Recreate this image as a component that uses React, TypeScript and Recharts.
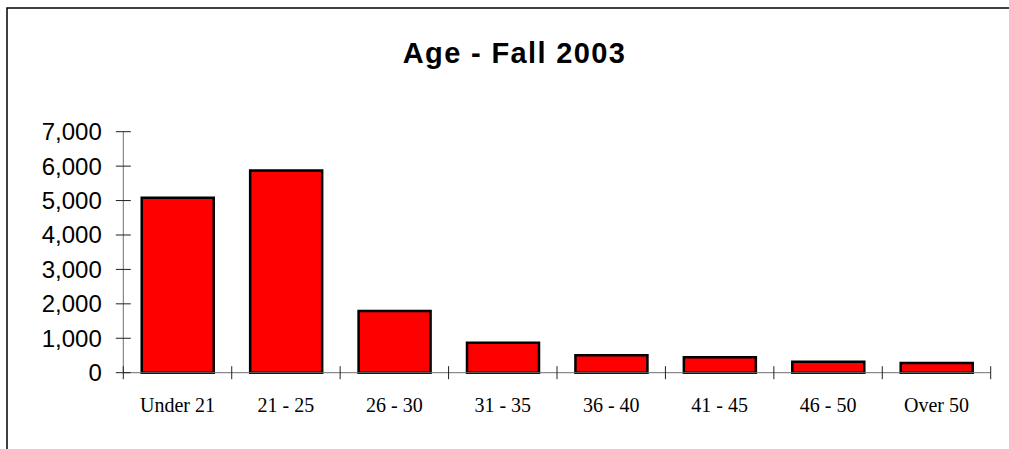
import React from 'react';
import { BarChart, Bar, XAxis, YAxis } from 'recharts';

const title = 'Age - Fall 2003';
const categories = ['Under 21', '21 - 25', '26 - 30', '31 - 35', '36 - 40', '41 - 45', '46 - 50', 'Over 50'];
const students = [5080, 5870, 1790, 870, 505, 450, 320, 280];
const yTicks = [0, 1000, 2000, 3000, 4000, 5000, 6000, 7000];

const data = categories.map((c, i) => ({ category: c, value: students[i] }));

const fmt = (v: number) => String(v).replace(/\B(?=(\d{3})+(?!\d))/g, ',');

const YTick = (props: any) => {
  const { x, y, payload } = props;
  return (
    <g>
      <line x1={x - 7.5} x2={x + 7.5} y1={y} y2={y} stroke="#222" strokeWidth={1} />
      <text x={x - 21.5} y={y + 8.5} textAnchor="end" fontFamily="'Liberation Sans', Arial, sans-serif" fontSize={24} fill="#000">
        {fmt(payload.value)}
      </text>
    </g>
  );
};

const XLabelTick = (props: any) => {
  const { x, y, payload, index, visibleTicksCount, width } = props;
  const off = Number(payload && payload.offset);
  const half = off > 0 ? off : Number(width) / Number(visibleTicksCount) / 2;
  const isLast = index === visibleTicksCount - 1;
  return (
    <g>
      <line x1={x - half} x2={x - half} y1={y - 6.5} y2={y + 6.5} stroke="#222" strokeWidth={1} />
      {isLast && <line x1={x + half} x2={x + half} y1={y - 6.5} y2={y + 6.5} stroke="#222" strokeWidth={1} />}
      <text x={x} y={y + 39} textAnchor="middle" fontFamily="'Liberation Serif', 'Times New Roman', serif" fontSize={20} fill="#000">
        {payload.value}
      </text>
    </g>
  );
};

export default function App() {
  return (
    <div style={{ position: 'absolute', left: 0, top: 0, width: 1009, height: 449, background: '#fff' }}>
      <BarChart
        width={1009}
        height={449}
        data={data}
        margin={{ top: 131.7, right: 18.3, bottom: 36.3, left: 0 }}
        barCategoryGap="17%"
      >
        <XAxis
          dataKey="category"
          interval={0}
          axisLine={{ stroke: '#6e6e6e', strokeWidth: 1 }}
          tickLine={false}
          tickSize={0}
          tickMargin={0}
          height={40}
          tick={<XLabelTick />}
        />
        <YAxis
          domain={[0, 7000]}
          ticks={yTicks}
          interval={0}
          width={123.3}
          axisLine={{ stroke: '#6e6e6e', strokeWidth: 1 }}
          tickLine={false}
          tickSize={0}
          tickMargin={0}
          tick={<YTick />}
        />
        <Bar dataKey="value" fill="#ff0000" stroke="#000" strokeWidth={2.5} isAnimationActive={false} />
      </BarChart>
      <svg width={1009} height={449} style={{ position: 'absolute', left: 0, top: 0, pointerEvents: 'none' }}>
        <path d="M7 449 L7 8 L1009 8" fill="none" stroke="#000" strokeWidth={1.5} />
        <text
          x={513.8}
          y={63.3}
          textAnchor="middle"
          fontFamily="'Liberation Sans', Arial, sans-serif"
          fontWeight="bold"
          fontSize={29}
          textLength={222}
          lengthAdjust="spacing"
          fill="#000"
        >
          {title}
        </text>
      </svg>
    </div>
  );
}
